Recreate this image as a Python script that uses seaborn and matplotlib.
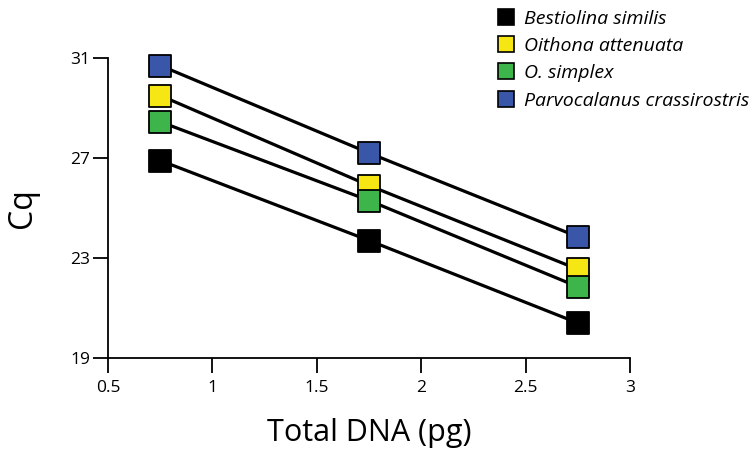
import matplotlib
matplotlib.use("Agg")
import matplotlib.pyplot as plt
import seaborn as sns
import pandas as pd
from matplotlib.lines import Line2D

species = ["Bestiolina similis", "Oithona attenuata", "O. simplex", "Parvocalanus crassirostris"]
colors = ["#000000", "#f6e614", "#3db54a", "#3a56a8"]
dna = [0.75, 1.75, 2.75]
cq_bestiolina = [26.9, 23.7, 20.4]
cq_oithona = [29.5, 25.9, 22.55]
cq_simplex = [28.45, 25.3, 21.85]
cq_parvo = [30.7, 27.2, 23.85]
xticks = [0.5, 1, 1.5, 2, 2.5, 3]
xticklabels = ["0.5", "1", "1.5", "2", "2.5", "3"]
yticks = [19, 23, 27, 31]

values = [cq_bestiolina, cq_oithona, cq_simplex, cq_parvo]
rows = []
for sp, vals in zip(species, values):
    for x, y in zip(dna, vals):
        rows.append({"species": sp, "dna": x, "cq": y})
df = pd.DataFrame(rows)

sns.set_style("white")
plt.rcParams['font.family'] = ['Open Sans', 'DejaVu Sans']
plt.rcParams['text.color'] = 'black'
plt.rcParams['axes.labelcolor'] = 'black'
plt.rcParams['xtick.color'] = 'black'
plt.rcParams['ytick.color'] = 'black'

fig = plt.figure(figsize=(7.53, 4.54), dpi=100)
ax = fig.add_axes([108/753, 1-358/454, (630-108)/753, 300/454])

sns.lineplot(data=df, x="dna", y="cq", hue="species", palette=["black"]*4,
             legend=False, lw=2.3, ax=ax, zorder=2)
order = [0, 2, 1, 3]
for i in order:
    sub = df[df.species == species[i]]
    sns.scatterplot(data=sub, x="dna", y="cq", marker="s", s=240, color=colors[i],
                    edgecolor="black", linewidth=1.3, ax=ax, zorder=3+i,
                    clip_on=False, legend=False)

ax.set_xlim(0.5, 3)
ax.set_ylim(19, 31)
ax.set_xticks(xticks)
ax.set_xticklabels(xticklabels)
ax.set_yticks(yticks)
for s in ["top", "right"]:
    ax.spines[s].set_visible(False)
for s in ["left", "bottom"]:
    ax.spines[s].set_linewidth(1.3)
    ax.spines[s].set_color("black")
ax.tick_params(axis="both", direction="out", length=11, width=1.3, labelsize=12.5,
               color="black", labelcolor="black", pad=2, left=True, bottom=True)
ax.tick_params(axis="x", pad=5)
ax.set_xlabel("Total DNA (pg)", fontsize=22, labelpad=16, color="black")
ax.set_ylabel("Cq", fontsize=23, labelpad=22, color="black")

handles = [Line2D([], [], marker="s", linestyle="none", markersize=12,
                  markerfacecolor=c, markeredgecolor="black", markeredgewidth=1.2)
           for c in colors]
leg = fig.legend(handles, species, loc="upper left", bbox_to_anchor=(0.659, 0.979),
                 frameon=False, fontsize=14, handletextpad=0.45, labelspacing=0.48,
                 borderaxespad=0.0, borderpad=0.0, handlelength=1.0)
for t in leg.get_texts():
    t.set_fontstyle("italic")
    t.set_color("black")

fig.savefig("out.png", dpi=100)
